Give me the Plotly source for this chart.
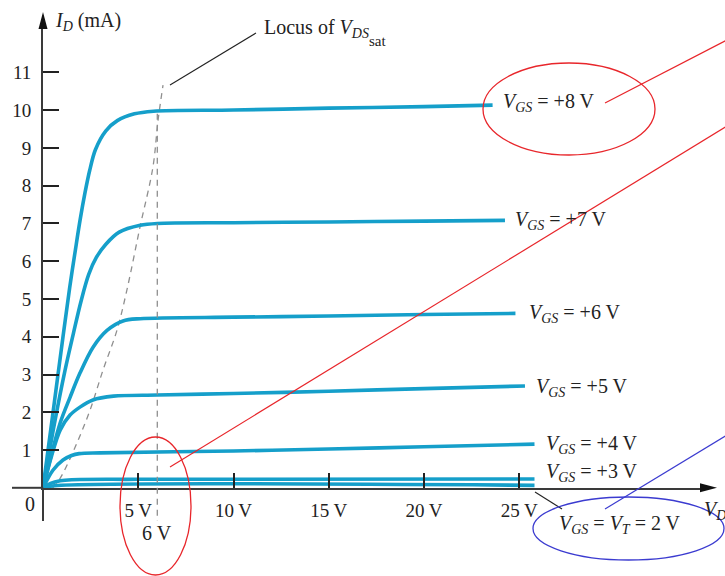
import plotly.graph_objects as go

# ---- Drain characteristics: I_D (mA) against V_DS (V), one list pair per gate voltage ----
vds_vgs8 = [0, 0.5, 1.05, 1.4, 1.7, 1.95, 2.2, 2.45, 2.75, 3.3, 3.9, 4.8, 5.8, 10, 15, 20, 23.6]
id_vgs8 = [0, 1.9, 4.0, 5.3, 6.3, 7.1, 7.8, 8.4, 8.95, 9.45, 9.72, 9.9, 9.97, 10.0, 10.05, 10.09, 10.13]

vds_vgs7 = [0, 0.6, 1.15, 1.6, 2.0, 2.4, 2.8, 3.3, 4.0, 5.1, 6.0, 10, 15, 20, 24.25]
id_vgs7 = [0, 1.7, 3.1, 4.1, 4.95, 5.65, 6.1, 6.45, 6.77, 6.95, 7.0, 7.02, 7.04, 7.06, 7.08]

vds_vgs6 = [0, 0.9, 1.42, 1.94, 2.62, 3.36, 4.2, 5.1, 10, 15, 20, 24.8]
id_vgs6 = [0, 1.72, 2.4, 3.04, 3.72, 4.17, 4.42, 4.48, 4.52, 4.55, 4.59, 4.62]

vds_vgs5 = [0, 0.45, 0.9, 1.42, 1.94, 2.62, 3.7, 6, 10, 15, 20, 25.3]
id_vgs5 = [0, 0.85, 1.53, 1.93, 2.14, 2.33, 2.43, 2.46, 2.5, 2.56, 2.63, 2.70]

vds_vgs4 = [0, 0.52, 1.05, 1.5, 1.9, 3, 10, 15, 20, 25.8]
id_vgs4 = [0, 0.47, 0.74, 0.86, 0.91, 0.93, 0.98, 1.03, 1.09, 1.16]

vds_vgs3 = [0, 0.4, 0.9, 1.5, 5, 25.8]
id_vgs3 = [0, 0.12, 0.19, 0.22, 0.23, 0.24]

vds_vgs2 = [0, 0.6, 25.8]
id_vgs2 = [0, 0.06, 0.07]

# Locus of V_DS(sat): where each curve leaves the ohmic region
vds_locus = [0.5, 0.73, 1.05, 1.78, 2.47, 3.15, 3.88, 4.4, 5.09, 5.77, 6.04, 6.3]
id_locus = [0, 0.13, 0.39, 1.19, 2.06, 3.12, 4.17, 5.23, 6.9, 8.49, 9.73, 10.66]

# Saturation voltage marker for V_GS = +8 V
vds_sat_marker = 6.0

curve_labels = ["+8 V", "+7 V", "+6 V", "+5 V", "+4 V", "+3 V"]
x_tick_vals = [5, 10, 15, 20, 25]
x_tick_text = ["5 V", "10 V", "15 V", "20 V", "25 V"]
y_tick_vals = [1, 2, 3, 4, 5, 6, 7, 8, 9, 10, 11]

# ---- geometry of the page ----
W, H = 725, 576
ML, MR, MT, MB = 43, 20, 22, 88
XMAX, YMAX = 34.75, 12.33
PW, PH = W - ML - MR, H - MT - MB


def at(px, py):
    """Page pixel position -> paper coordinates."""
    return (px - ML) / PW, (H - MB - py) / PH


SERIF = "Liberation Serif"
INK = "#222222"
AXIS = "#3a3a3a"
CYAN = "#159fca"
DASH = "#8f8f8f"

fig = go.Figure()

# dashed guide: locus of saturation
fig.add_trace(go.Scatter(x=vds_locus, y=id_locus, mode="lines",
                         line=dict(color=DASH, width=1.3, dash="6px,5px", shape="spline"),
                         hoverinfo="skip", showlegend=False))

curves = [(vds_vgs8, id_vgs8), (vds_vgs7, id_vgs7), (vds_vgs6, id_vgs6),
          (vds_vgs5, id_vgs5), (vds_vgs4, id_vgs4), (vds_vgs3, id_vgs3),
          (vds_vgs2, id_vgs2)]
for xs, ys in curves:
    fig.add_trace(go.Scatter(x=xs, y=ys, mode="lines",
                             line=dict(color=CYAN, width=3.6, shape="spline", smoothing=0.9),
                             hoverinfo="skip", showlegend=False))

shapes = []

# vertical dashed line at V_DS(sat), running below the axis to its label
x6 = vds_sat_marker / XMAX
shapes.append(dict(type="line", xref="paper", yref="paper",
                   x0=x6, x1=x6, y0=9.9 / YMAX, y1=at(0, 521)[1],
                   line=dict(color=DASH, width=1.3, dash="6px,5px")))

# axis extensions and arrowheads
x0p, y0p = at(43, 487.8)
shapes.append(dict(type="line", xref="paper", yref="paper",
                   x0=x0p, x1=x0p, y0=y0p, y1=at(0, 521)[1],
                   line=dict(color=AXIS, width=2)))
shapes.append(dict(type="line", xref="paper", yref="paper",
                   x0=at(12, 0)[0], x1=x0p, y0=y0p, y1=y0p,
                   line=dict(color=AXIS, width=2)))
t = at(43, 12); b1 = at(38.5, 29); b2 = at(47.5, 29)
shapes.append(dict(type="path", xref="paper", yref="paper",
                   path=f"M {t[0]},{t[1]} L {b1[0]},{b1[1]} L {b2[0]},{b2[1]} Z",
                   fillcolor="#111111", line=dict(width=0)))
t = at(717, 487.8); b1 = at(700, 483.3); b2 = at(700, 492.3)
shapes.append(dict(type="path", xref="paper", yref="paper",
                   path=f"M {t[0]},{t[1]} L {b1[0]},{b1[1]} L {b2[0]},{b2[1]} Z",
                   fillcolor="#111111", line=dict(width=0)))


def seg(p, q, color, width):
    a, c = at(*p), at(*q)
    return dict(type="line", xref="paper", yref="paper",
                x0=a[0], y0=a[1], x1=c[0], y1=c[1],
                line=dict(color=color, width=width))


def oval(x0, y0, x1, y1, color):
    a, c = at(x0, y0), at(x1, y1)
    return dict(type="circle", xref="paper", yref="paper",
                x0=a[0], y0=c[1], x1=c[0], y1=a[1],
                line=dict(color=color, width=1.3))


# leader lines
shapes.append(seg((170, 85), (256, 33), "#222222", 1.1))
shapes.append(seg((535, 492), (562, 509), "#222222", 1.1))

# hand-drawn highlight marks
shapes.append(oval(483, 63, 655, 155, "#e8262b"))
shapes.append(seg((605, 103), (727, 40), "#e8262b", 1.2))
shapes.append(seg((170, 467), (727, 126), "#e8262b", 1.2))
shapes.append(oval(120, 437, 191, 575, "#e8262b"))
shapes.append(oval(533, 497, 724, 560, "#3b3bd0"))
shapes.append(seg((605, 509), (727, 435), "#3b3bd0", 1.2))

annotations = []


def label(text, px, py, size=20, xanchor="left"):
    x, y = at(px, py)
    annotations.append(dict(text=text, x=x, y=y, xref="paper", yref="paper",
                            xanchor=xanchor, yanchor="middle", showarrow=False,
                            font=dict(family=SERIF, size=size, color=INK)))


VGS = "<i>V</i><sub><i>GS</i></sub>"
label_pos = [(501, 103), (513, 221), (527, 313), (534, 387), (544, 444), (544, 472)]
for txt, (px, py) in zip(curve_labels, label_pos):
    label(f"{VGS} = {txt}", px, py)
label(f"{VGS} = <i>V</i><sub><i>T</i></sub> = 2 V", 557, 524)

label("<i>I</i><sub><i>D</i></sub> (mA)", 53, 21)
label("Locus of <i>V</i><sub><i>DS</i></sub>", 262, 28)
label("sat", 367, 41, size=15)
label("<i>V</i><sub><i>DS</i></sub>", 702, 510)
label("0", 30, 504, xanchor="center")
label("6 V", 157, 533, xanchor="center")

fig.update_layout(
    width=W, height=H,
    margin=dict(l=ML, r=MR, t=MT, b=MB, pad=0),
    paper_bgcolor="white", plot_bgcolor="white",
    showlegend=False,
    shapes=shapes,
    annotations=annotations,
    xaxis=dict(range=[0, XMAX], showgrid=False, zeroline=False,
               showline=True, linecolor=AXIS, linewidth=2,
               ticks="inside", ticklen=15, tickwidth=1.5, tickcolor="#222222",
               tickvals=x_tick_vals, ticktext=x_tick_text,
               ticklabelstandoff=4,
               tickfont=dict(family=SERIF, size=19, color=INK)),
    yaxis=dict(range=[0, YMAX], showgrid=False, zeroline=False,
               showline=True, linecolor=AXIS, linewidth=2,
               ticks="inside", ticklen=16, tickwidth=1.5, tickcolor="#222222",
               tickvals=y_tick_vals,
               ticklabelstandoff=6,
               tickfont=dict(family=SERIF, size=19, color=INK)),
)

fig.write_html("out.html")
